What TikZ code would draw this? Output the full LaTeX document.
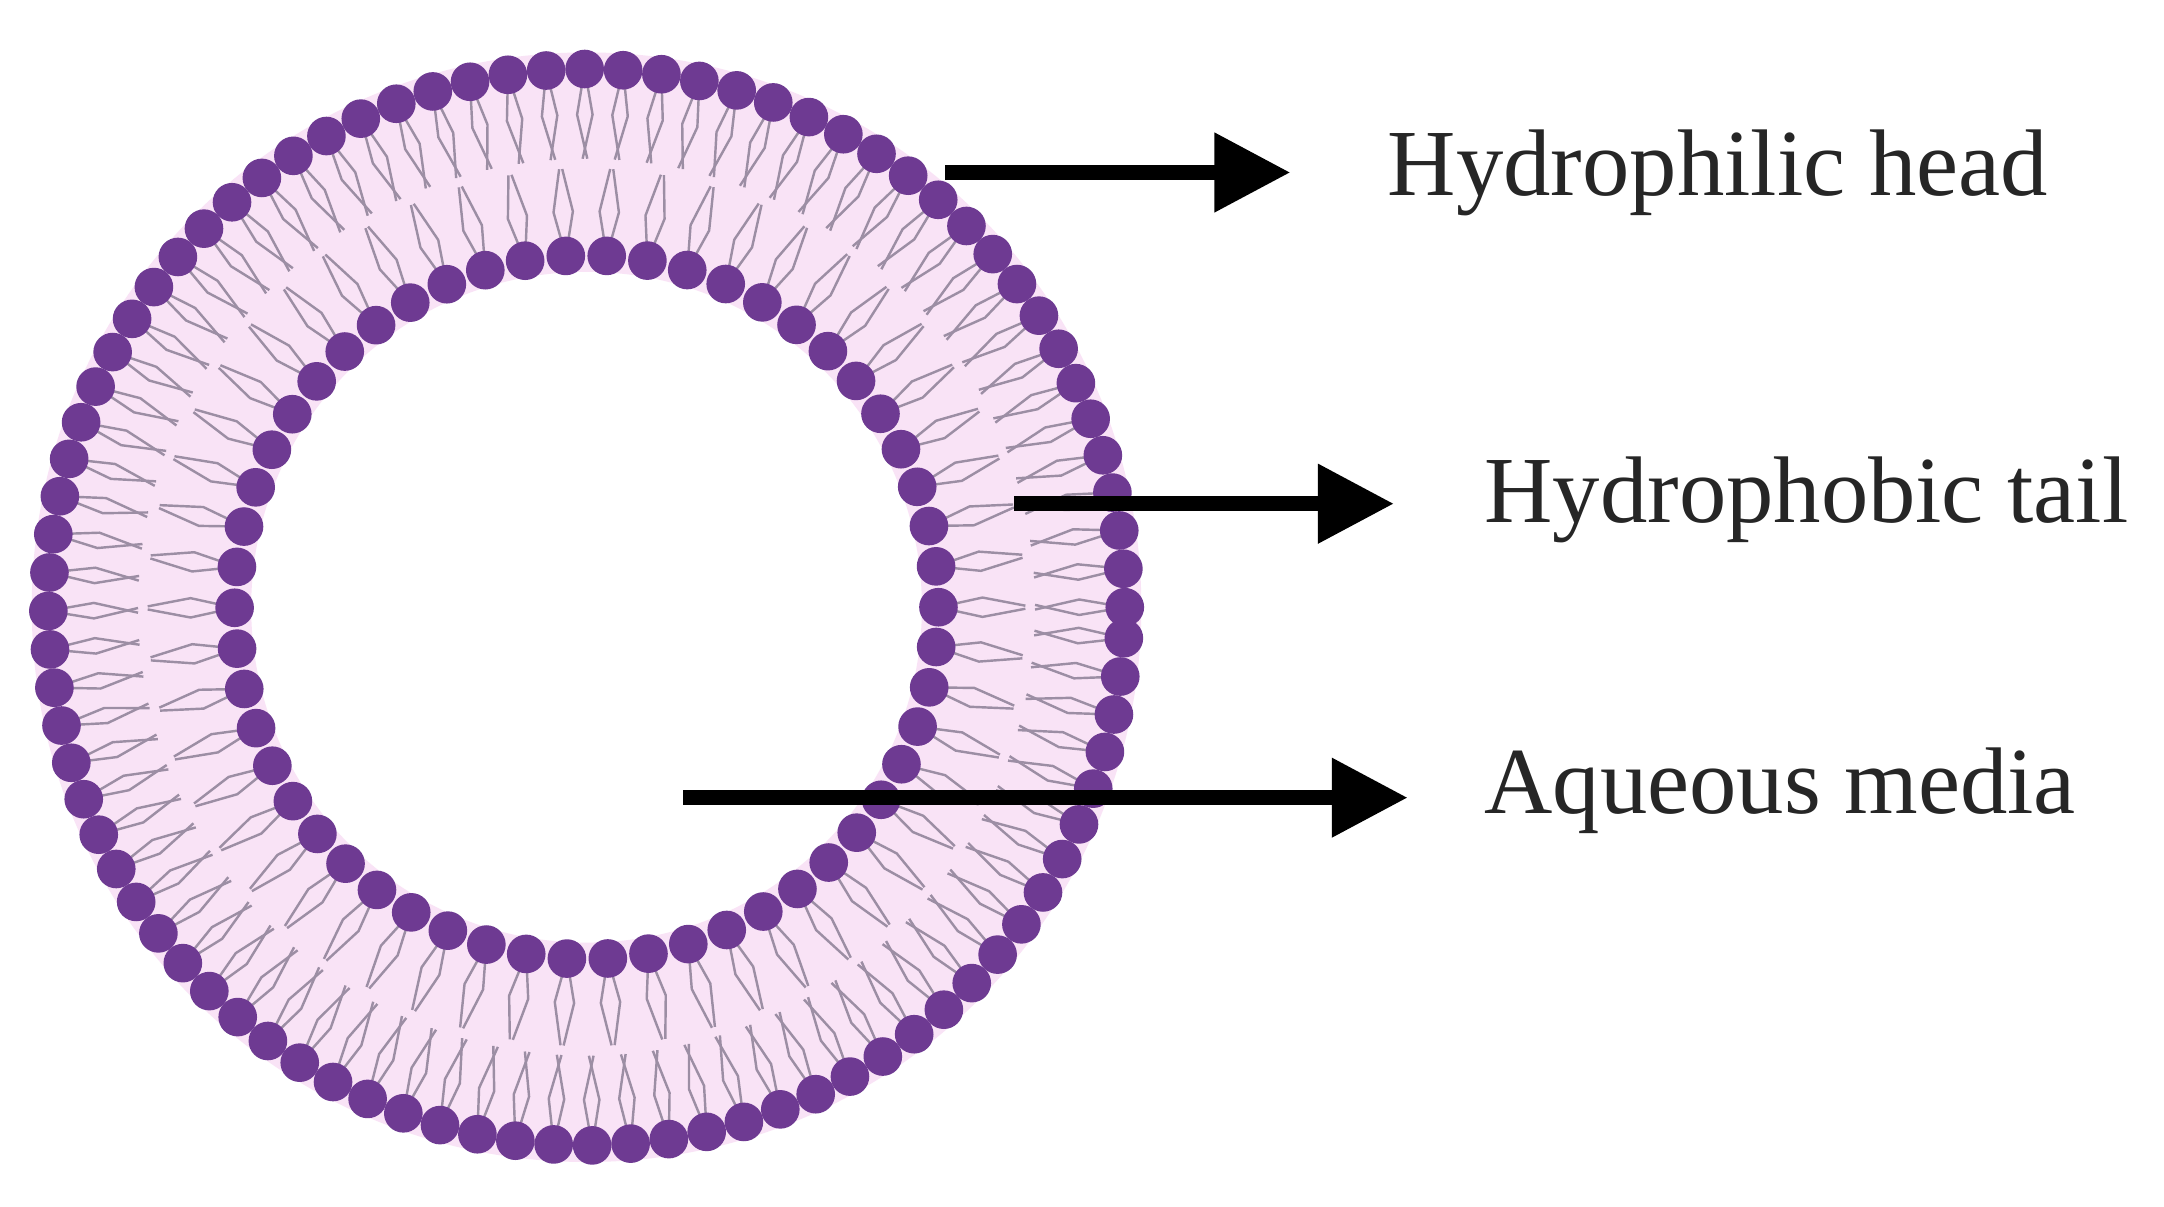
\documentclass[tikz,border=0pt]{standalone}
\usepackage{fontspec}
\setmainfont{Liberation Serif}
\usetikzlibrary{arrows.meta,calc}
\definecolor{head}{HTML}{6E3A92}
\definecolor{pinkf}{HTML}{F9E3F6}
\definecolor{tail}{HTML}{9C8EA4}
\begin{document}
\begin{tikzpicture}[x=0.01cm,y=0.01cm,
  lbl/.style={anchor=west,font=\fontsize{19.5}{23}\selectfont,text=black!85,inner sep=0pt},
  arr/.style={line width=3pt,-{Triangle[length=0.55cm,width=0.55cm]}},
  hd/.style={fill=head,draw=none},
  tl/.style={draw=tail,line width=0.5pt}]
\useasboundingbox[fill=white] (0,0) rectangle (1568,-874);
\coordinate (C) at (425,-440);
\fill[pinkf,even odd rule] (C) circle (402) (C) circle (243);
% outer leaflet tails
\foreach \a in {0,4.1,...,359} {
  \draw[tl] ($(C)+(\a:390)$) -- ($(C)+(\a-0.9:357)$) -- ($(C)+(\a+0.3:325)$);
  \draw[tl] ($(C)+(\a:390)$) -- ($(C)+(\a+0.9:357)$) -- ($(C)+(\a-0.3:325)$);
}
% inner leaflet tails
\foreach \a in {0,6.67,...,359} {
  \draw[tl] ($(C)+(\a:255)$) -- ($(C)+(\a-1.4:287)$) -- ($(C)+(\a-0.2:318)$);
  \draw[tl] ($(C)+(\a:255)$) -- ($(C)+(\a+1.4:287)$) -- ($(C)+(\a+0.2:318)$);
}
\foreach \a in {0,4.1,...,359} \fill[hd] ($(C)+(\a:390)$) circle (14);
\foreach \a in {0,6.67,...,359} \fill[hd] ($(C)+(\a:255)$) circle (14);
\node[lbl] (t1) at (1005,-125) {Hydrophilic head};
\node[lbl] (t2) at (1075,-362) {Hydrophobic tail};
\node[lbl] (t3) at (1075,-573) {Aqueous media};
\coordinate (s1) at (685,-125);
\coordinate (s2) at (735,-365);
\coordinate (s3) at (495,-578);
\draw[arr] (s1) -- (935,-125);
\draw[arr] (s2) -- (1010,-365);
\draw[arr] (s3) -- (1020,-578);
\end{tikzpicture}
\end{document}
